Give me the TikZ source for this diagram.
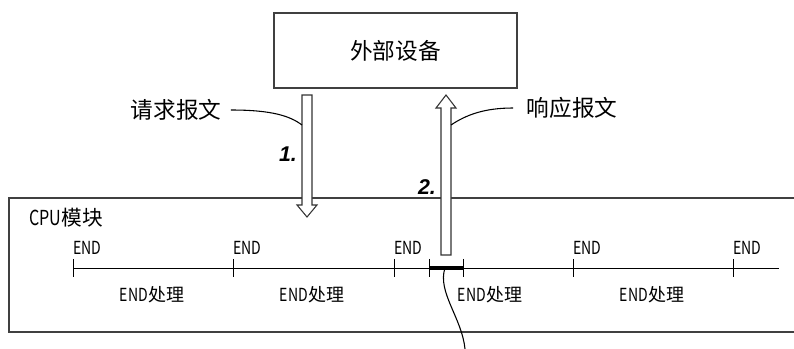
\documentclass[tikz,border=0pt]{standalone}
\usepackage{fontspec}
\setmainfont{Noto Sans CJK SC}
\newfontfamily\narrowfont{Noto Sans CJK SC}[FakeStretch=0.78]
\newfontfamily\numfont{Liberation Sans}
\usetikzlibrary{positioning,calc}

\tikzset{
  frame/.style={draw=black!75, line width=1.1pt},
  biglabel/.style={inner sep=0pt, font=\fontsize{17}{19}\selectfont},
  endlabel/.style={inner sep=0pt, anchor=base west, font=\narrowfont\fontsize{13.5}{15}\selectfont},
  proclabel/.style={inner sep=0pt, font=\fontsize{13.5}{15}\selectfont},
  steplabel/.style={inner sep=0pt, font=\numfont\bfseries\itshape\fontsize{16}{18}\selectfont},
  hollow/.style={draw=black!80, line width=0.8pt, fill=white, line join=miter},
  leader/.style={draw, line width=0.8pt},
  tickmark/.style={draw, line width=0.7pt}
}

\begin{document}
\begin{tikzpicture}[x=0.75pt, y=-0.75pt]
    \useasboundingbox (0,0) rectangle (794,349);

    % external device
    \node[frame, biglabel, minimum width=182.25pt, minimum height=56.25pt] (dev) at (395.5,50.5) {外部设备};

    % CPU module, open to the right
    \draw[frame] (794,198) -- (9,198) -- (9,332) -- (794,332);
    \node[inner sep=0pt, anchor=west, font=\fontsize{15.5}{17}\selectfont] (cpu) at (29,218) {{\narrowfont CPU}模块};

    % time line
    \coordinate (tl0) at (73,268);
    \coordinate (tl1) at (779,268);
    \draw[line width=0.7pt] (tl0) -- (tl1);
    \foreach \x/\nm in {73/a,233/b,394/c,429/d,463/e,573/f,733/g}
        \draw[tickmark] (\x,259) -- (\x,277) coordinate (t\nm);
    \draw[line width=3pt] (429,268) -- (463,268);

    \foreach \x/\nm in {73/a,233/b,394/c,573/f,733/g}
        \node[endlabel] (end\nm) at (\x,254.5) {END};
    \foreach \x/\nm in {152/1,312/2,490/3,652/4}
        \node[proclabel] (proc\nm) at (\x,295) {{\narrowfont END}处理};

    % hollow arrows
    \coordinate (reqtop) at (307,95);
    \coordinate (resbot) at (446,255);
    \draw[hollow] ($(reqtop)+(-5,0)$) -- ++(10,0) -- ++(0,110) -- ++(5,0)
        -- ++(-10,12) -- ++(-10,-12) -- ++(5,0) -- cycle;
    \draw[hollow] ($(resbot)+(-5,0)$) -- ++(10,0) -- ++(0,-147) -- ++(5,0)
        -- ++(-10,-13) -- ++(-10,13) -- ++(5,0) -- cycle;

    \node[steplabel] (one) at (288,154) {1.};
    \node[steplabel] (two) at (427,187) {2.};

    % message labels
    \node[biglabel] (req) at (176,110) {请求报文};
    \node[biglabel] (res) at (572,108) {响应报文};
    \coordinate (reqfoot) at (302,125);
    \coordinate (resfoot) at (451,125);
    \draw[leader] ([xshift=7pt]req.east) .. controls (272,110) and (290,116) .. (reqfoot);
    \draw[leader] ([xshift=-10pt]res.west) .. controls (484,108) and (466,115) .. (resfoot);

    % callout from the busy interval
    \coordinate (calloutend) at (465,349);
    \draw[leader] (445,268) .. controls (437,292) and (462,318) .. (calloutend);
\end{tikzpicture}
\end{document}
